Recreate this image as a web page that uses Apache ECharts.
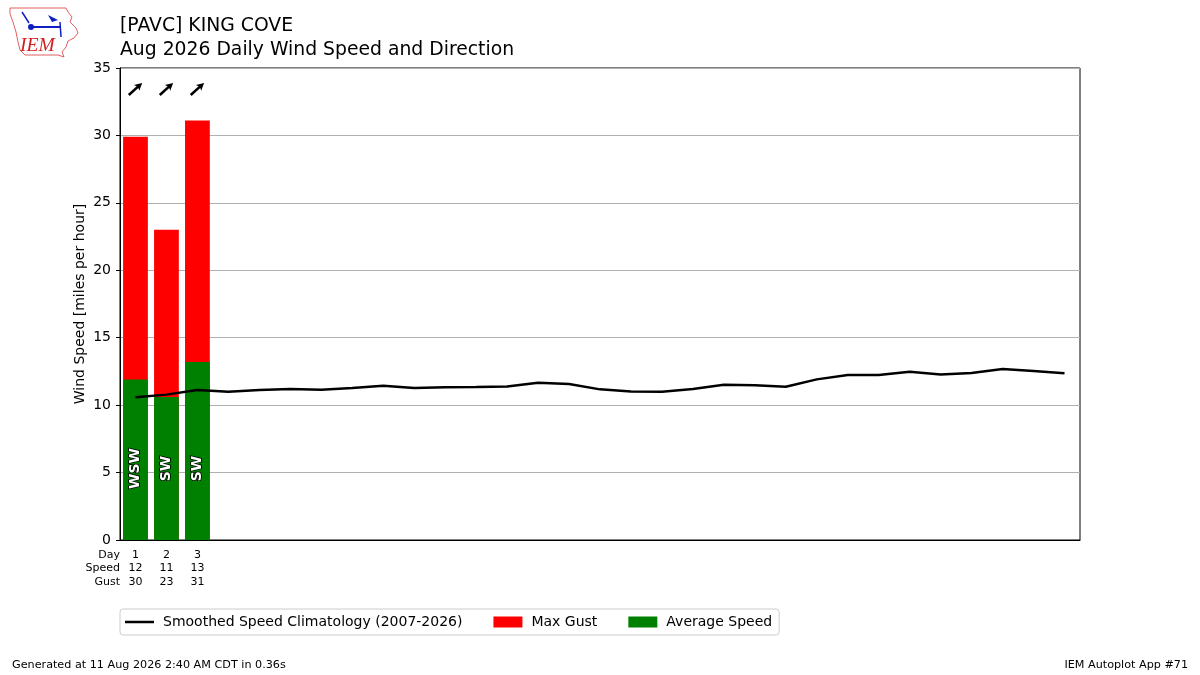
<!DOCTYPE html>
<html>
<head>
<meta charset="utf-8">
<script src="https://cdn.jsdelivr.net/npm/echarts@6/dist/echarts.min.js"></script>
<style>
  html, body { margin: 0; padding: 0; background: #fff; }
  #chart { width: 1200px; height: 675px; }
</style>
</head>
<body>
<div id="chart"></div>
<script>
// days of the month
const days = [];
for (let d = 1; d <= 31; d++) days.push(String(d));

// observed values (only first 3 days so far)
const avgSpeed = [11.9, 10.6, 13.2];
const maxGust = [29.9, 23.0, 31.1];
const dirText = ['WSW', 'SW', 'SW'];
const windFrom = [228, 228, 228]; // degrees, arrow points where the wind goes

// smoothed climatology 2007-2026
const climo = [10.58, 10.78, 11.12, 11.0, 11.12, 11.2, 11.15, 11.27, 11.44, 11.27,
  11.33, 11.34, 11.39, 11.66, 11.57, 11.17, 11.02, 11.0, 11.2, 11.52,
  11.47, 11.37, 11.91, 12.23, 12.23, 12.48, 12.28, 12.38, 12.68, 12.53, 12.36];

const FONT = 'DejaVu Sans';
const chart = echarts.init(document.getElementById('chart'));

const climoName = 'Smoothed Speed Climatology (2007-2026)';
// arrow pointing up, rotated per day
const arrowPath = 'path://M4,0 L8,7.5 L5.3,6.3 L5.3,18 L2.7,18 L2.7,6.3 L0,7.5 Z';
const linePath = 'path://M0,0 L30,0 L30,2.6 L0,2.6 Z';

chart.setOption({
  animation: false,
  textStyle: { fontFamily: FONT, color: '#000' },
  title: {
    text: '[PAVC] KING COVE\nAug 2026 Daily Wind Speed and Direction',
    left: 115, top: 9,
    textStyle: { fontSize: 18.8, fontWeight: 'normal', lineHeight: 24, color: '#000', fontFamily: FONT }
  },
  grid: {
    left: 120, right: 120, top: 68, bottom: 135,
    show: true, borderColor: '#000', borderWidth: 1, backgroundColor: 'transparent'
  },
  legend: {
    bottom: 40, left: 120,
    data: [
      { name: climoName, icon: linePath },
      { name: 'Max Gust', icon: 'rect' },
      { name: 'Average Speed', icon: 'rect' }
    ],
    itemWidth: 29, itemHeight: 11, itemGap: 31,
    padding: [6, 7, 6, 5],
    borderColor: '#ccc', borderWidth: 1, borderRadius: 3,
    textStyle: { fontSize: 14, fontFamily: FONT, color: '#000', padding: [0, 0, 0, 4] }
  },
  xAxis: {
    type: 'category',
    data: days,
    axisLine: { lineStyle: { color: '#000' } },
    axisTick: {
      alignWithLabel: true, length: 4,
      interval: (i) => i < avgSpeed.length,
      lineStyle: { color: '#000' }
    },
    axisLabel: {
      interval: 0, margin: 8,
      fontSize: 11, lineHeight: 13.5, color: '#000',
      formatter: (v, i) => i < avgSpeed.length
        ? v + '\n' + Math.round(avgSpeed[i]) + '\n' + Math.round(maxGust[i])
        : ''
    },
    splitLine: { show: false }
  },
  yAxis: {
    type: 'value', min: 0, max: 35, interval: 5,
    name: 'Wind Speed [miles per hour]',
    nameLocation: 'middle', nameGap: 33, nameMoveOverlap: false,
    nameTextStyle: { fontSize: 14, color: '#000' },
    axisLine: { show: true, lineStyle: { color: '#000' } },
    axisTick: { show: true, length: 4, lineStyle: { color: '#000' } },
    axisLabel: { fontSize: 14, color: '#000', margin: 9 },
    splitLine: { show: true, lineStyle: { color: '#b0b0b0', width: 1 } }
  },
  series: [
    {
      name: 'Max Gust', type: 'bar', data: maxGust,
      barWidth: '80%', barGap: '-100%',
      itemStyle: { color: '#ff0000' }, z: 2
    },
    {
      name: 'Average Speed', type: 'bar', data: avgSpeed,
      barWidth: '80%', barGap: '-100%',
      itemStyle: { color: '#008000' }, z: 3
    },
    {
      name: climoName, type: 'line', data: climo,
      symbol: 'none', showSymbol: false,
      lineStyle: { color: '#000', width: 2.5 },
      itemStyle: { color: '#000' }, z: 5
    },
    {
      name: 'dir', type: 'scatter', symbolSize: 0, silent: true, z: 6,
      data: dirText.map((t, i) => [i, 5.3]),
      itemStyle: { opacity: 1 },
      label: {
        show: true, position: 'inside', rotate: 90,
        formatter: (p) => dirText[p.dataIndex],
        fontSize: 14, fontWeight: 'bold', color: '#fff', opacity: 1,
        textBorderColor: '#000', textBorderWidth: 1.6
      }
    },
    {
      name: 'arrow', type: 'scatter', silent: true, z: 6,
      data: windFrom.map((d, i) => ({ value: [i, 33.45], symbolRotate: -(d - 180) })),
      symbol: arrowPath, symbolSize: [8, 18],
      itemStyle: { color: '#000', opacity: 1 }
    }
  ],
  graphic: [
    // row labels for the table under the axis
    { type: 'text', x: 120, y: 555, style: { text: 'Day', textAlign: 'right', textVerticalAlign: 'middle', fontSize: 11, fontFamily: FONT, fill: '#000' } },
    { type: 'text', x: 120, y: 568.5, style: { text: 'Speed', textAlign: 'right', textVerticalAlign: 'middle', fontSize: 11, fontFamily: FONT, fill: '#000' } },
    { type: 'text', x: 120, y: 582, style: { text: 'Gust', textAlign: 'right', textVerticalAlign: 'middle', fontSize: 11, fontFamily: FONT, fill: '#000' } },
    // footer
    { type: 'text', x: 12, y: 665, style: { text: 'Generated at 11 Aug 2026 2:40 AM CDT in 0.36s', textVerticalAlign: 'middle', fontSize: 11.2, fontFamily: FONT, fill: '#000' } },
    { type: 'text', x: 1188, y: 665, style: { text: 'IEM Autoplot App #71', textAlign: 'right', textVerticalAlign: 'middle', fontSize: 11.2, fontFamily: FONT, fill: '#000' } },
    // IEM logo
    {
      type: 'group', x: 0, y: 0,
      children: [
        { type: 'polygon', shape: { points: [[10, 8], [66, 8], [68, 12], [72, 17], [70, 22], [76, 28], [78, 33], [74, 38], [68, 41], [66, 47], [62, 52], [64, 57], [58, 55], [25, 55], [20, 50], [18, 42], [16, 32], [13, 22], [10, 14]] },
          style: { fill: '#fff', stroke: '#e06060', lineWidth: 1 } },
        { type: 'line', shape: { x1: 31, y1: 27, x2: 60, y2: 27 }, style: { stroke: '#1020c0', lineWidth: 2 } },
        { type: 'circle', shape: { cx: 31, cy: 27, r: 3 }, style: { fill: '#1020c0' } },
        { type: 'line', shape: { x1: 22, y1: 12, x2: 29, y2: 23 }, style: { stroke: '#1020c0', lineWidth: 1.5 } },
        { type: 'polygon', shape: { points: [[48, 15], [58, 20], [52, 22]] }, style: { fill: '#1020c0' } },
        { type: 'line', shape: { x1: 60, y1: 22, x2: 61, y2: 37 }, style: { stroke: '#1020c0', lineWidth: 1.5 } },
        { type: 'text', x: 20, y: 36, style: { text: 'IEM', fontSize: 19.5, fontStyle: 'italic', fontFamily: 'Liberation Serif', fill: '#d02020' } }
      ]
    }
  ]
});
</script>
</body>
</html>
